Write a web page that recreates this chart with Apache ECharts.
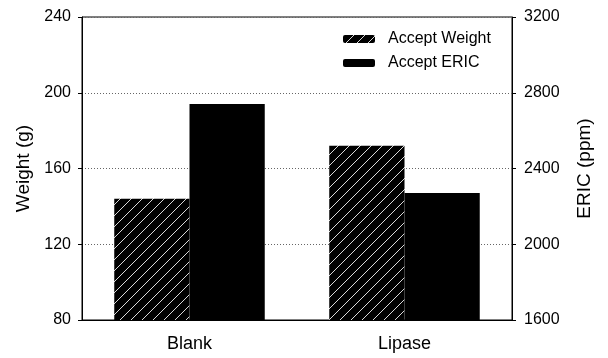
<!DOCTYPE html>
<html>
<head>
<meta charset="utf-8">
<script src="https://cdn.jsdelivr.net/npm/echarts@6/dist/echarts.min.js"></script>
<style>
  html, body { margin: 0; padding: 0; background: #fff; }
  #chart { width: 608px; height: 358px; }
</style>
</head>
<body>
<div id="chart"></div>
<script>
// Treatments and measured values
const categories = ['Blank', 'Lipase'];
const acceptWeight = [144, 172];     // g, left axis
const acceptEric = [2740, 2270];     // ppm, right axis
const weightTicks = [80, 120, 160, 200, 240];
const ericTicks = [1600, 2000, 2400, 2800, 3200];

// Black tile with a thin light diagonal stroke for the hatched bars
function hatchPattern() {
  const s = 11;
  const c = document.createElement('canvas');
  c.width = s; c.height = s;
  const g = c.getContext('2d');
  g.fillStyle = '#000';
  g.fillRect(0, 0, s, s);
  g.strokeStyle = '#d8d8d8';
  g.lineWidth = 1;
  g.beginPath();
  g.moveTo(-1, s + 1); g.lineTo(s + 1, -1);
  g.moveTo(-1, 1); g.lineTo(1, -1);
  g.moveTo(s - 1, s + 1); g.lineTo(s + 1, s - 1);
  g.stroke();
  return { image: c, repeat: 'repeat' };
}
const hatch = hatchPattern();

const font = 'Liberation Sans, Arial, sans-serif';
const chart = echarts.init(document.getElementById('chart'), null, { renderer: 'canvas' });
chart.setOption({
  animation: false,
  backgroundColor: '#fff',
  grid: {
    left: 82, right: 96, top: 17, bottom: 38,
    show: true, borderColor: '#000', borderWidth: 1, backgroundColor: 'transparent'
  },
  legend: {
    left: 338, top: 26, orient: 'vertical', itemGap: 8,
    itemWidth: 32, itemHeight: 8,
    textStyle: { fontFamily: font, fontSize: 16, color: '#000', padding: [0, 0, 0, 8] },
    data: ['Accept Weight', 'Accept ERIC']
  },
  xAxis: {
    type: 'category', data: categories,
    axisLine: { lineStyle: { color: '#000' } },
    axisTick: { alignWithLabel: true, length: 4, lineStyle: { color: '#000' } },
    axisLabel: { fontFamily: font, fontSize: 18, color: '#000', margin: 15 }
  },
  yAxis: [
    {
      type: 'value', min: weightTicks[0], max: weightTicks[weightTicks.length - 1], interval: 40,
      name: 'Weight (g)', nameLocation: 'middle', nameGap: 49, nameRotate: 90,
      nameTextStyle: { fontFamily: font, fontSize: 19, color: '#000' },
      axisLine: { show: true, lineStyle: { color: '#000' } },
      axisTick: { show: true, length: 4, lineStyle: { color: '#000' } },
      axisLabel: { fontFamily: font, fontSize: 16, color: '#000', margin: 11 },
      splitLine: { show: true, lineStyle: { type: [1, 2], color: '#666' } }
    },
    {
      type: 'value', min: ericTicks[0], max: ericTicks[ericTicks.length - 1], interval: 400,
      name: 'ERIC (ppm)', nameLocation: 'middle', nameGap: 63, nameRotate: 90,
      nameTextStyle: { fontFamily: font, fontSize: 19, color: '#000' },
      axisLine: { show: true, lineStyle: { color: '#000' } },
      axisTick: { show: true, length: 4, lineStyle: { color: '#000' } },
      axisLabel: { fontFamily: font, fontSize: 16, color: '#000', margin: 12, formatter: v => String(v) },
      splitLine: { show: false }
    }
  ],
  series: [
    {
      name: 'Accept Weight', type: 'bar', yAxisIndex: 0, data: acceptWeight,
      barWidth: '35%', barGap: '0%',
      itemStyle: { color: hatch }
    },
    {
      name: 'Accept ERIC', type: 'bar', yAxisIndex: 1, data: acceptEric,
      barWidth: '35%', barGap: '0%',
      itemStyle: { color: '#000' }
    }
  ]
});
</script>
</body>
</html>
